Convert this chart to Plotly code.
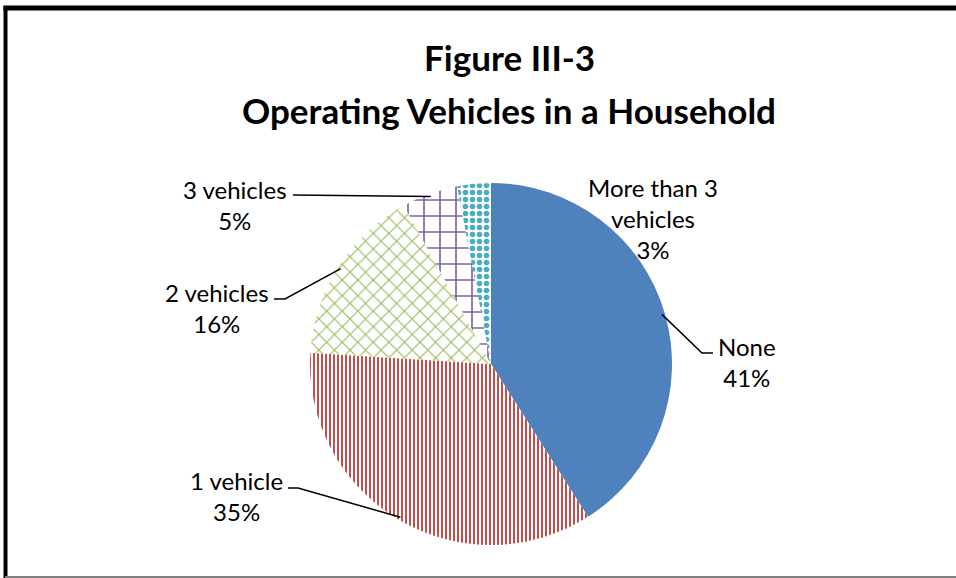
import math
import plotly.graph_objects as go

categories = ["None", "1 vehicle", "2 vehicles", "3 vehicles", "More than 3 vehicles"]
values = [41, 35, 16, 5, 3]
label_texts = ["None<br>41%", "1 vehicle<br>35%", "2 vehicles<br>16%", "3 vehicles<br>5%", "More than 3<br>vehicles<br>3%"]
title_lines = ["Figure III-3", "Operating Vehicles in a Household"]

W, H = 956, 578
CX, CY, R = 491, 364, 181  # pie centre / radius in px (layout)
FONT = "Lato, Open Sans, sans-serif"

def px(x):
    return x / W

def py(y):
    return 1 - y / H

colors = ["#4F81BD", "#C0504D", "#9BBB59", "#8064A2", "#4BACC6"]

fig = go.Figure()
fig.add_trace(go.Pie(
    labels=categories,
    values=values,
    sort=False,
    direction="clockwise",
    rotation=0,
    textinfo="none",
    hoverinfo="label+percent",
    showlegend=False,
    domain=dict(x=[px(CX - R), px(CX + R)], y=[py(CY + R), py(CY - R)]),
    marker=dict(
        colors=colors,
        line=dict(width=0),
        pattern=dict(
            shape=["", "|", "x", "+", "."],
            fgcolor=colors,
            bgcolor=[colors[0], "white", "white", "white", "white"],
            fgopacity=1,
            fillmode="replace",
            size=[8, 4, 11, 16, 7],
            solidity=[0.5, 0.5, 0.2, 0.2, 0.5],
        ),
    ),
))

# label positions (px) and leader line elbow/end points (px)
label_pos = [(747, 362), (236, 496), (217, 308), (235, 205), (653, 219)]
elbows = [((702, 353), (713, 353)), ((298, 488), (288, 488)), ((285, 299), (274, 299)),
          ((293, 195), (293, 195)), None]

total = sum(values)
cum = 0
shapes = []
annotations = []
for i, v in enumerate(values):
    mid = (cum + v / 2) / total * 2 * math.pi
    cum += v
    ex = CX + (R - 3) * math.sin(mid)
    ey = CY - (R - 3) * math.cos(mid)
    annotations.append(dict(
        x=px(label_pos[i][0]), y=py(label_pos[i][1]), xref="paper", yref="paper",
        xanchor="center", yanchor="middle",
        text=label_texts[i], showarrow=False,
        font=dict(family=FONT, size=24, color="black"),
        align="center",
    ))
    if elbows[i] is not None:
        (bx, by), (tx, ty) = elbows[i]
        shapes.append(dict(
            type="path", xref="paper", yref="paper",
            path=f"M {px(ex)} {py(ey)} L {px(bx)} {py(by)} L {px(tx)} {py(ty)}",
            line=dict(color="black", width=1.5),
        ))

for txt, yc in zip(title_lines, [57, 110]):
    annotations.append(dict(x=px(509), y=py(yc), xref="paper", yref="paper", showarrow=False,
                            xanchor="center", yanchor="middle",
                            text=f"<b>{txt}</b>",
                            font=dict(family=FONT, size=35, color="black")))

# chart frame
shapes.append(dict(type="line", xref="paper", yref="paper", x0=px(3.5), x1=1.01, y0=py(8), y1=py(8),
                   line=dict(color="black", width=5)))
shapes.append(dict(type="line", xref="paper", yref="paper", x0=px(5.5), x1=px(5.5), y0=py(6), y1=-0.01,
                   line=dict(color="black", width=4)))
shapes.append(dict(type="line", xref="paper", yref="paper", x0=px(5), x1=1.01, y0=py(577), y1=py(577),
                   line=dict(color="#808080", width=2)))

fig.update_layout(
    width=W, height=H,
    margin=dict(l=0, r=0, t=0, b=0),
    paper_bgcolor="white",
    plot_bgcolor="white",
    shapes=shapes,
    annotations=annotations,
)

fig.write_html("out.html", config={"displayModeBar": False},
               post_script="document.body.style.margin='0';document.body.style.overflow='hidden';")
